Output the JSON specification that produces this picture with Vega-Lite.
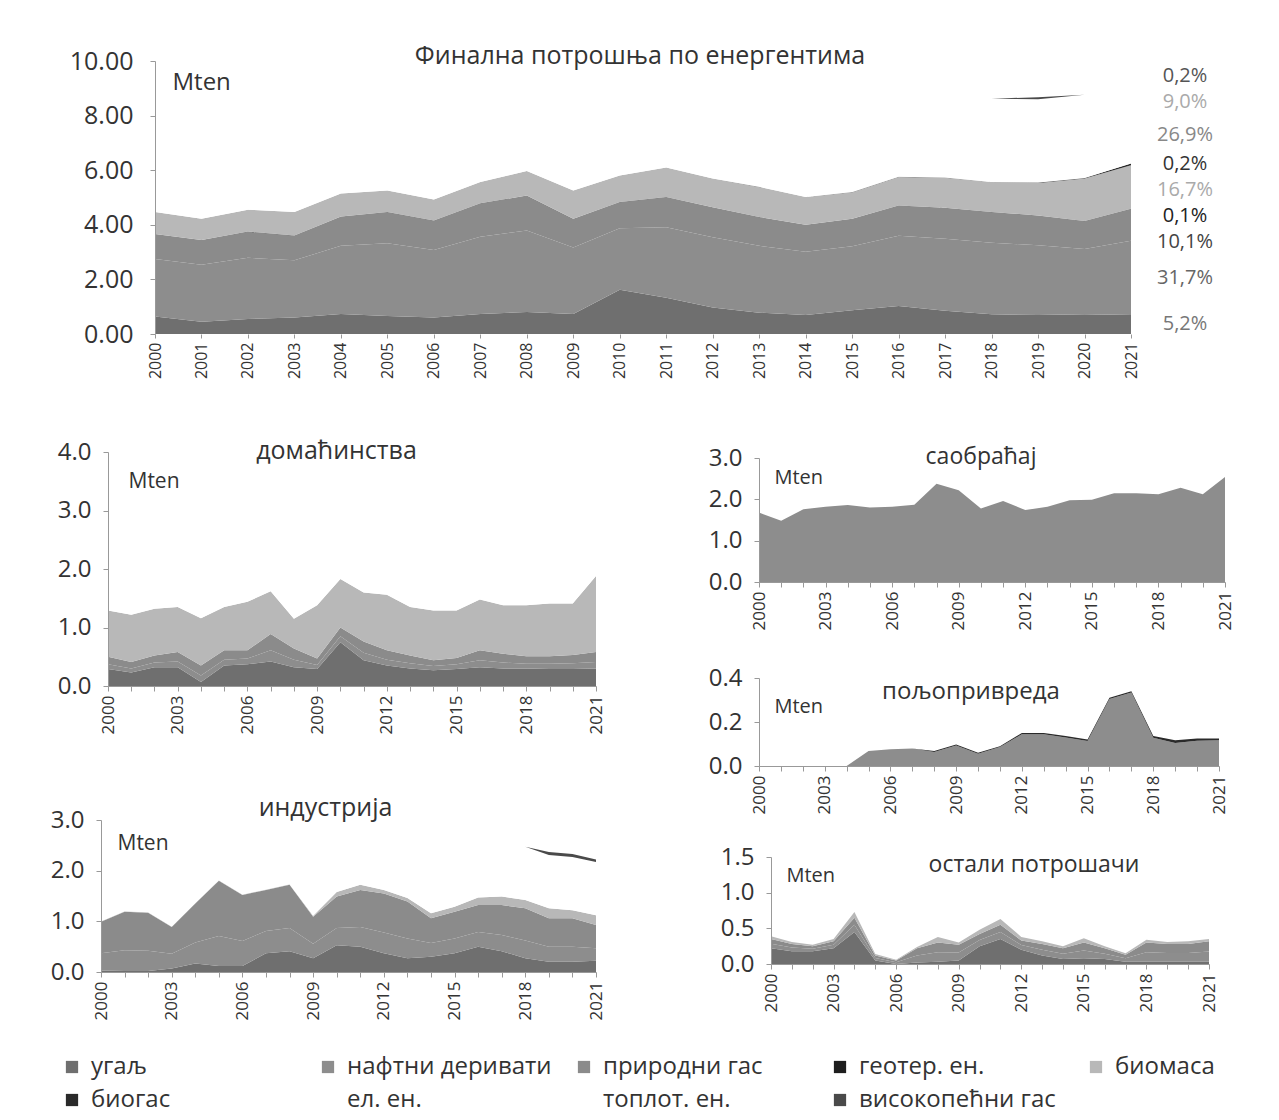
{
  "$schema": "https://vega.github.io/schema/vega-lite/v6.json",
  "background": "white",
  "padding": {"left": 50, "top": 44, "right": 5, "bottom": 5},
  "config": {
    "font": "Open Sans",
    "view": {"stroke": null},
    "axis": {"labelColor": "#333", "domainColor": "#999", "tickColor": "#999", "tickSize": 5, "grid": false, "titleFontWeight": "normal", "titleColor": "#333", "labelFlush": false, "labelOverlap": false},
    "title": {"fontWeight": "normal", "color": "#333", "frame": "group", "anchor": "middle"}
  },
  "datasets": {
    "cats": [
      {"key": "coal", "name": "угаљ", "share": "5,2%"},
      {"key": "oil", "name": "нафтни деривати", "share": "31,7%"},
      {"key": "gas", "name": "природни гас", "share": "10,1%"},
      {"key": "geo", "name": "геотер. ен.", "share": "0,1%"},
      {"key": "bio", "name": "биомаса", "share": "16,7%"},
      {"key": "bgas", "name": "биогас", "share": "0,2%"},
      {"key": "el", "name": "ел. ен.", "share": "26,9%"},
      {"key": "heat", "name": "топлот. ен.", "share": "9,0%"},
      {"key": "bfg", "name": "високопећни гас", "share": "0,2%"}
    ],
    "m": [
      {"year": 2000, "coal": 0.64, "oil": 2.11, "gas": 0.91, "geo": 0.005, "bio": 0.80, "bgas": 0, "el": 2.30, "heat": 0.85, "bfg": 0},
      {"year": 2001, "coal": 0.45, "oil": 2.09, "gas": 0.90, "geo": 0.005, "bio": 0.78, "bgas": 0, "el": 2.35, "heat": 0.85, "bfg": 0},
      {"year": 2002, "coal": 0.55, "oil": 2.24, "gas": 0.96, "geo": 0.005, "bio": 0.80, "bgas": 0, "el": 2.30, "heat": 0.85, "bfg": 0},
      {"year": 2003, "coal": 0.60, "oil": 2.10, "gas": 0.90, "geo": 0.005, "bio": 0.86, "bgas": 0, "el": 2.30, "heat": 0.85, "bfg": 0},
      {"year": 2004, "coal": 0.73, "oil": 2.50, "gas": 1.07, "geo": 0.005, "bio": 0.84, "bgas": 0, "el": 2.25, "heat": 0.85, "bfg": 0},
      {"year": 2005, "coal": 0.66, "oil": 2.66, "gas": 1.14, "geo": 0.005, "bio": 0.79, "bgas": 0, "el": 2.25, "heat": 0.85, "bfg": 0},
      {"year": 2006, "coal": 0.60, "oil": 2.48, "gas": 1.07, "geo": 0.005, "bio": 0.77, "bgas": 0, "el": 2.20, "heat": 0.85, "bfg": 0},
      {"year": 2007, "coal": 0.73, "oil": 2.83, "gas": 1.22, "geo": 0.005, "bio": 0.78, "bgas": 0, "el": 2.15, "heat": 0.85, "bfg": 0},
      {"year": 2008, "coal": 0.81, "oil": 2.98, "gas": 1.28, "geo": 0.005, "bio": 0.90, "bgas": 0, "el": 2.20, "heat": 0.85, "bfg": 0},
      {"year": 2009, "coal": 0.73, "oil": 2.44, "gas": 1.05, "geo": 0.005, "bio": 1.03, "bgas": 0, "el": 2.15, "heat": 0.85, "bfg": 0},
      {"year": 2010, "coal": 1.62, "oil": 2.25, "gas": 0.96, "geo": 0.005, "bio": 0.97, "bgas": 0, "el": 2.20, "heat": 0.85, "bfg": 0},
      {"year": 2011, "coal": 1.33, "oil": 2.58, "gas": 1.10, "geo": 0.005, "bio": 1.08, "bgas": 0, "el": 2.20, "heat": 0.85, "bfg": 0},
      {"year": 2012, "coal": 0.97, "oil": 2.57, "gas": 1.10, "geo": 0.005, "bio": 1.05, "bgas": 0, "el": 2.20, "heat": 0.85, "bfg": 0},
      {"year": 2013, "coal": 0.78, "oil": 2.45, "gas": 1.05, "geo": 0.005, "bio": 1.10, "bgas": 0.005, "el": 2.15, "heat": 0.85, "bfg": 0},
      {"year": 2014, "coal": 0.70, "oil": 2.31, "gas": 0.99, "geo": 0.005, "bio": 1.01, "bgas": 0.005, "el": 2.10, "heat": 0.85, "bfg": 0},
      {"year": 2015, "coal": 0.87, "oil": 2.34, "gas": 1.01, "geo": 0.005, "bio": 0.97, "bgas": 0.005, "el": 2.15, "heat": 0.85, "bfg": 0},
      {"year": 2016, "coal": 1.03, "oil": 2.57, "gas": 1.10, "geo": 0.005, "bio": 1.05, "bgas": 0.005, "el": 2.15, "heat": 0.85, "bfg": 0},
      {"year": 2017, "coal": 0.85, "oil": 2.64, "gas": 1.13, "geo": 0.005, "bio": 1.10, "bgas": 0.005, "el": 2.20, "heat": 0.85, "bfg": 0},
      {"year": 2018, "coal": 0.72, "oil": 2.62, "gas": 1.12, "geo": 0.005, "bio": 1.10, "bgas": 0.005, "el": 2.20, "heat": 0.85, "bfg": 0},
      {"year": 2019, "coal": 0.70, "oil": 2.55, "gas": 1.09, "geo": 0.005, "bio": 1.19, "bgas": 0.01, "el": 2.20, "heat": 0.85, "bfg": 0.08},
      {"year": 2020, "coal": 0.72, "oil": 2.39, "gas": 1.02, "geo": 0.005, "bio": 1.56, "bgas": 0.02, "el": 2.15, "heat": 0.90, "bfg": 0},
      {"year": 2021, "coal": 0.70, "oil": 2.72, "gas": 1.16, "geo": 0.005, "bio": 1.60, "bgas": 0.06, "el": 2.10, "heat": 1.10, "bfg": 0}
    ],
    "dom": [
      {"year": 2000, "coal": 0.29, "oil": 0.08, "gas": 0.13, "bio": 0.79, "el": 1.20, "heat": 0.50},
      {"year": 2001, "coal": 0.23, "oil": 0.07, "gas": 0.11, "bio": 0.81, "el": 1.20, "heat": 0.50},
      {"year": 2002, "coal": 0.32, "oil": 0.08, "gas": 0.12, "bio": 0.80, "el": 1.20, "heat": 0.50},
      {"year": 2003, "coal": 0.32, "oil": 0.10, "gas": 0.16, "bio": 0.77, "el": 1.20, "heat": 0.50},
      {"year": 2004, "coal": 0.07, "oil": 0.11, "gas": 0.17, "bio": 0.81, "el": 1.20, "heat": 0.50},
      {"year": 2005, "coal": 0.35, "oil": 0.10, "gas": 0.16, "bio": 0.74, "el": 1.20, "heat": 0.50},
      {"year": 2006, "coal": 0.37, "oil": 0.10, "gas": 0.14, "bio": 0.83, "el": 1.20, "heat": 0.50},
      {"year": 2007, "coal": 0.42, "oil": 0.19, "gas": 0.28, "bio": 0.73, "el": 1.20, "heat": 0.50},
      {"year": 2008, "coal": 0.32, "oil": 0.13, "gas": 0.19, "bio": 0.51, "el": 1.20, "heat": 0.50},
      {"year": 2009, "coal": 0.29, "oil": 0.07, "gas": 0.11, "bio": 0.91, "el": 1.20, "heat": 0.50},
      {"year": 2010, "coal": 0.75, "oil": 0.10, "gas": 0.15, "bio": 0.83, "el": 1.20, "heat": 0.50},
      {"year": 2011, "coal": 0.44, "oil": 0.13, "gas": 0.19, "bio": 0.84, "el": 1.20, "heat": 0.50},
      {"year": 2012, "coal": 0.35, "oil": 0.10, "gas": 0.16, "bio": 0.95, "el": 1.20, "heat": 0.50},
      {"year": 2013, "coal": 0.30, "oil": 0.09, "gas": 0.13, "bio": 0.83, "el": 1.20, "heat": 0.50},
      {"year": 2014, "coal": 0.27, "oil": 0.07, "gas": 0.10, "bio": 0.85, "el": 1.20, "heat": 0.50},
      {"year": 2015, "coal": 0.29, "oil": 0.08, "gas": 0.11, "bio": 0.81, "el": 1.20, "heat": 0.50},
      {"year": 2016, "coal": 0.32, "oil": 0.12, "gas": 0.17, "bio": 0.87, "el": 1.20, "heat": 0.50},
      {"year": 2017, "coal": 0.30, "oil": 0.10, "gas": 0.15, "bio": 0.83, "el": 1.20, "heat": 0.50},
      {"year": 2018, "coal": 0.30, "oil": 0.08, "gas": 0.13, "bio": 0.87, "el": 1.20, "heat": 0.50},
      {"year": 2019, "coal": 0.29, "oil": 0.09, "gas": 0.13, "bio": 0.90, "el": 1.20, "heat": 0.50},
      {"year": 2020, "coal": 0.29, "oil": 0.10, "gas": 0.14, "bio": 0.88, "el": 1.20, "heat": 0.50},
      {"year": 2021, "coal": 0.30, "oil": 0.11, "gas": 0.17, "bio": 1.30, "el": 1.20, "heat": 0.50}
    ],
    "ind": [
      {"year": 2000, "coal": 0.03, "oil": 0.34, "gas": 0.62, "bio": 0.01, "el": 0.85, "heat": 0.20, "bfg": 0},
      {"year": 2001, "coal": 0.02, "oil": 0.41, "gas": 0.76, "bio": 0.01, "el": 0.85, "heat": 0.20, "bfg": 0},
      {"year": 2002, "coal": 0.02, "oil": 0.40, "gas": 0.75, "bio": 0.01, "el": 0.85, "heat": 0.20, "bfg": 0},
      {"year": 2003, "coal": 0.07, "oil": 0.29, "gas": 0.53, "bio": 0.01, "el": 0.85, "heat": 0.20, "bfg": 0},
      {"year": 2004, "coal": 0.17, "oil": 0.41, "gas": 0.77, "bio": 0.01, "el": 0.85, "heat": 0.20, "bfg": 0},
      {"year": 2005, "coal": 0.12, "oil": 0.59, "gas": 1.09, "bio": 0.01, "el": 0.85, "heat": 0.20, "bfg": 0},
      {"year": 2006, "coal": 0.12, "oil": 0.49, "gas": 0.91, "bio": 0.01, "el": 0.85, "heat": 0.20, "bfg": 0},
      {"year": 2007, "coal": 0.37, "oil": 0.44, "gas": 0.81, "bio": 0.01, "el": 0.85, "heat": 0.20, "bfg": 0},
      {"year": 2008, "coal": 0.41, "oil": 0.46, "gas": 0.85, "bio": 0.01, "el": 0.85, "heat": 0.20, "bfg": 0},
      {"year": 2009, "coal": 0.27, "oil": 0.29, "gas": 0.53, "bio": 0.02, "el": 0.85, "heat": 0.20, "bfg": 0},
      {"year": 2010, "coal": 0.53, "oil": 0.34, "gas": 0.62, "bio": 0.09, "el": 0.85, "heat": 0.20, "bfg": 0},
      {"year": 2011, "coal": 0.50, "oil": 0.39, "gas": 0.73, "bio": 0.10, "el": 0.85, "heat": 0.20, "bfg": 0},
      {"year": 2012, "coal": 0.37, "oil": 0.41, "gas": 0.77, "bio": 0.07, "el": 0.85, "heat": 0.20, "bfg": 0},
      {"year": 2013, "coal": 0.27, "oil": 0.39, "gas": 0.73, "bio": 0.07, "el": 0.85, "heat": 0.20, "bfg": 0},
      {"year": 2014, "coal": 0.30, "oil": 0.27, "gas": 0.49, "bio": 0.10, "el": 0.85, "heat": 0.20, "bfg": 0},
      {"year": 2015, "coal": 0.37, "oil": 0.29, "gas": 0.53, "bio": 0.10, "el": 0.85, "heat": 0.20, "bfg": 0},
      {"year": 2016, "coal": 0.50, "oil": 0.29, "gas": 0.53, "bio": 0.15, "el": 0.85, "heat": 0.20, "bfg": 0},
      {"year": 2017, "coal": 0.41, "oil": 0.32, "gas": 0.59, "bio": 0.17, "el": 0.85, "heat": 0.20, "bfg": 0},
      {"year": 2018, "coal": 0.27, "oil": 0.35, "gas": 0.64, "bio": 0.16, "el": 0.85, "heat": 0.20, "bfg": 0},
      {"year": 2019, "coal": 0.20, "oil": 0.30, "gas": 0.56, "bio": 0.20, "el": 0.85, "heat": 0.20, "bfg": 0.06},
      {"year": 2020, "coal": 0.20, "oil": 0.30, "gas": 0.56, "bio": 0.16, "el": 0.85, "heat": 0.20, "bfg": 0.06},
      {"year": 2021, "coal": 0.22, "oil": 0.25, "gas": 0.46, "bio": 0.19, "el": 0.85, "heat": 0.20, "bfg": 0.05}
    ],
    "sao": [
      {"year": 2000, "oil": 1.68}, {"year": 2001, "oil": 1.48}, {"year": 2002, "oil": 1.76}, {"year": 2003, "oil": 1.82},
      {"year": 2004, "oil": 1.86}, {"year": 2005, "oil": 1.80}, {"year": 2006, "oil": 1.82}, {"year": 2007, "oil": 1.87},
      {"year": 2008, "oil": 2.38}, {"year": 2009, "oil": 2.22}, {"year": 2010, "oil": 1.78}, {"year": 2011, "oil": 1.96},
      {"year": 2012, "oil": 1.74}, {"year": 2013, "oil": 1.82}, {"year": 2014, "oil": 1.98}, {"year": 2015, "oil": 1.99},
      {"year": 2016, "oil": 2.15}, {"year": 2017, "oil": 2.15}, {"year": 2018, "oil": 2.12}, {"year": 2019, "oil": 2.28},
      {"year": 2020, "oil": 2.12}, {"year": 2021, "oil": 2.54}
    ],
    "pol": [
      {"year": 2000, "oil": 0, "bgas": 0}, {"year": 2001, "oil": 0, "bgas": 0}, {"year": 2002, "oil": 0, "bgas": 0},
      {"year": 2003, "oil": 0, "bgas": 0}, {"year": 2004, "oil": 0, "bgas": 0}, {"year": 2005, "oil": 0.068, "bgas": 0},
      {"year": 2006, "oil": 0.076, "bgas": 0}, {"year": 2007, "oil": 0.080, "bgas": 0}, {"year": 2008, "oil": 0.064, "bgas": 0.004},
      {"year": 2009, "oil": 0.093, "bgas": 0.005}, {"year": 2010, "oil": 0.056, "bgas": 0.004}, {"year": 2011, "oil": 0.086, "bgas": 0.004},
      {"year": 2012, "oil": 0.144, "bgas": 0.006}, {"year": 2013, "oil": 0.144, "bgas": 0.006}, {"year": 2014, "oil": 0.130, "bgas": 0.006},
      {"year": 2015, "oil": 0.114, "bgas": 0.006}, {"year": 2016, "oil": 0.304, "bgas": 0.006}, {"year": 2017, "oil": 0.334, "bgas": 0.006},
      {"year": 2018, "oil": 0.128, "bgas": 0.008}, {"year": 2019, "oil": 0.105, "bgas": 0.012}, {"year": 2020, "oil": 0.115, "bgas": 0.010},
      {"year": 2021, "oil": 0.117, "bgas": 0.008}
    ],
    "ost": [
      {"year": 2000, "coal": 0.22, "oil": 0.065, "gas": 0.065, "bio": 0.04},
      {"year": 2001, "coal": 0.18, "oil": 0.05, "gas": 0.05, "bio": 0.03},
      {"year": 2002, "coal": 0.18, "oil": 0.035, "gas": 0.035, "bio": 0.02},
      {"year": 2003, "coal": 0.22, "oil": 0.05, "gas": 0.05, "bio": 0.03},
      {"year": 2004, "coal": 0.45, "oil": 0.10, "gas": 0.10, "bio": 0.08},
      {"year": 2005, "coal": 0.05, "oil": 0.035, "gas": 0.035, "bio": 0.02},
      {"year": 2006, "coal": 0.00, "oil": 0.025, "gas": 0.025, "bio": 0.01},
      {"year": 2007, "coal": 0.02, "oil": 0.10, "gas": 0.10, "bio": 0.02},
      {"year": 2008, "coal": 0.03, "oil": 0.135, "gas": 0.135, "bio": 0.08},
      {"year": 2009, "coal": 0.05, "oil": 0.11, "gas": 0.11, "bio": 0.03},
      {"year": 2010, "coal": 0.25, "oil": 0.085, "gas": 0.085, "bio": 0.06},
      {"year": 2011, "coal": 0.35, "oil": 0.10, "gas": 0.10, "bio": 0.08},
      {"year": 2012, "coal": 0.20, "oil": 0.065, "gas": 0.065, "bio": 0.05},
      {"year": 2013, "coal": 0.12, "oil": 0.08, "gas": 0.08, "bio": 0.04},
      {"year": 2014, "coal": 0.07, "oil": 0.075, "gas": 0.075, "bio": 0.03},
      {"year": 2015, "coal": 0.08, "oil": 0.11, "gas": 0.11, "bio": 0.06},
      {"year": 2016, "coal": 0.07, "oil": 0.075, "gas": 0.075, "bio": 0.03},
      {"year": 2017, "coal": 0.03, "oil": 0.05, "gas": 0.05, "bio": 0.02},
      {"year": 2018, "coal": 0.03, "oil": 0.135, "gas": 0.135, "bio": 0.04},
      {"year": 2019, "coal": 0.03, "oil": 0.125, "gas": 0.125, "bio": 0.03},
      {"year": 2020, "coal": 0.03, "oil": 0.125, "gas": 0.125, "bio": 0.04},
      {"year": 2021, "coal": 0.03, "oil": 0.145, "gas": 0.145, "bio": 0.03}
    ]
  },
  "spacing": 60,
  "vconcat": [
    {
      "width": 1030,
      "height": 273,
      "title": {"text": "Финална потрошња по енергентима", "fontSize": 25, "dx": 24, "offset": -20},
      "layer": [
        {
          "data": {"name": "m"},
          "transform": [
            {"fold": ["coal", "oil", "gas", "geo", "bio", "bgas", "el", "heat", "bfg"], "as": ["key", "v"]},
            {"lookup": "key", "from": {"data": {"name": "cats"}, "key": "key", "fields": ["name", "share"]}},
            {"stack": "v", "groupby": ["year"], "as": ["y0", "y1"]}
          ],
          "mark": {"type": "area", "interpolate": "linear"},
          "encoding": {
            "x": {"field": "year", "type": "quantitative", "title": null, "scale": {"domain": [2000, 2021], "range": [54, 1030], "nice": false, "zero": false},
              "axis": {"values": [2000, 2001, 2002, 2003, 2004, 2005, 2006, 2007, 2008, 2009, 2010, 2011, 2012, 2013, 2014, 2015, 2016, 2017, 2018, 2019, 2020, 2021], "format": "d", "labelAngle": -90, "labelFontSize": 16, "labelPadding": 4, "tickSize": 4, "domain": false, "title": null, "zindex": 1}},
            "y": {"field": "y1", "type": "quantitative", "title": "Mten", "scale": {"domain": [0, 10], "nice": false},
              "axis": {"values": [0, 2, 4, 6, 8, 10], "format": ".2f", "labelFontSize": 25, "labelPadding": 17, "offset": -54, "zindex": 1, "title": "Mten", "titleAngle": 0, "titleX": 17, "titleY": 21, "titleAlign": "left", "titleBaseline": "middle", "titleFontSize": 24}},
            "y2": {"field": "y0"},
            "color": {"field": "name", "type": "nominal",
              "scale": {"domain": ["угаљ", "нафтни деривати", "природни гас", "геотер. ен.", "биомаса", "биогас", "ел. ен.", "топлот. ен.", "високопећни гас"], "range": ["#6f6f6f", "#8d8d8d", "#8b8b8b", "#1e1e1e", "#b8b8b8", "#2a2a2a", "#ffffff", "#ffffff", "#4a4a4a"]},
              "legend": {"title": null, "orient": "none", "direction": "horizontal", "legendX": -41, "legendY": 994, "columns": 5, "gridAlign": "all", "columnPadding": 20, "rowPadding": 9, "labelFontSize": 24, "labelColor": "#333", "labelLimit": 400, "symbolType": "square", "symbolSize": 150, "symbolStrokeWidth": 0, "labelOffset": 7}}
          }
        },
        {
          "data": {"name": "m"},
          "transform": [
            {"filter": "datum.year == 2021"},
            {"fold": ["coal", "oil", "gas", "geo", "bio", "bgas", "el", "heat", "bfg"], "as": ["key", "v"]},
            {"lookup": "key", "from": {"data": {"name": "cats"}, "key": "key", "fields": ["name", "share"]}},
            {"stack": "v", "groupby": ["year"], "as": ["y0", "y1"]},
            {"calculate": "(datum.y0 + datum.y1) / 2", "as": "mid"},
            {"window": [{"op": "row_number", "as": "rn"}], "sort": [{"field": "mid", "order": "descending"}]},
            {"calculate": "datum.mid + datum.rn * 0.95", "as": "a"},
            {"window": [{"op": "min", "field": "a", "as": "amin"}], "sort": [{"field": "mid", "order": "descending"}], "frame": [null, 0]},
            {"calculate": "datum.amin - datum.rn * 0.95", "as": "ly"}
          ],
          "mark": {"type": "text", "dx": 54, "align": "center", "baseline": "middle", "fontSize": 20},
          "encoding": {
            "x": {"field": "year", "type": "quantitative", "title": null},
            "y": {"field": "ly", "type": "quantitative", "title": "Mten"},
            "text": {"field": "share"},
            "fill": {"field": "name", "type": "nominal", "legend": null,
              "scale": {"domain": ["угаљ", "нафтни деривати", "природни гас", "геотер. ен.", "биомаса", "биогас", "ел. ен.", "топлот. ен.", "високопећни гас"], "range": ["#777777", "#666666", "#444444", "#222222", "#aaaaaa", "#333333", "#888888", "#aaaaaa", "#555555"]}}
          }
        }
      ]
    },
    {
      "spacing": 104,
      "hconcat": [
        {
          "spacing": 62,
          "vconcat": [
            {
              "width": 495,
              "height": 234,
              "title": {"text": "домаћинства", "fontSize": 25, "dx": -12, "offset": -24},
              "data": {"name": "dom"},
              "transform": [
                {"fold": ["coal", "oil", "gas", "bio", "el", "heat"], "as": ["key", "v"]},
                {"lookup": "key", "from": {"data": {"name": "cats"}, "key": "key", "fields": ["name", "share"]}},
                {"stack": "v", "groupby": ["year"], "as": ["y0", "y1"]}
              ],
              "mark": {"type": "area", "interpolate": "linear"},
              "encoding": {
                "x": {"field": "year", "type": "quantitative", "scale": {"domain": [2000, 2021], "range": [7, 495], "nice": false, "zero": false},
                  "axis": {"values": [2000, 2001, 2002, 2003, 2004, 2005, 2006, 2007, 2008, 2009, 2010, 2011, 2012, 2013, 2014, 2015, 2016, 2017, 2018, 2019, 2020, 2021], "format": "d", "labelExpr": "(datum.value - 2000) % 3 == 0 ? datum.label : ''", "labelAngle": -90, "labelFontSize": 17, "labelPadding": 4, "tickSize": 5, "title": null, "zindex": 1}},
                "y": {"field": "y1", "type": "quantitative", "scale": {"domain": [0, 4], "nice": false},
                  "axis": {"values": [0, 1, 2, 3, 4], "format": ".1f", "labelFontSize": 24, "labelPadding": 12, "offset": -7, "zindex": 1, "title": "Mten", "titleAngle": 0, "titleX": 20, "titleY": 29, "titleAlign": "left", "titleBaseline": "middle", "titleFontSize": 21}},
                "y2": {"field": "y0"},
                "color": {"field": "name", "type": "nominal",
                  "scale": {"domain": ["угаљ", "нафтни деривати", "природни гас", "геотер. ен.", "биомаса", "биогас", "ел. ен.", "топлот. ен.", "високопећни гас"], "range": ["#6f6f6f", "#8d8d8d", "#8b8b8b", "#1e1e1e", "#b8b8b8", "#2a2a2a", "#ffffff", "#ffffff", "#4a4a4a"]},
                  "legend": {"title": null, "orient": "none", "direction": "horizontal", "legendX": -41, "legendY": 994, "columns": 5, "gridAlign": "all", "columnPadding": 20, "rowPadding": 9, "labelFontSize": 24, "labelColor": "#333", "labelLimit": 400, "symbolType": "square", "symbolSize": 150, "symbolStrokeWidth": 0, "labelOffset": 7}}
              }
            },
            {
              "width": 495,
              "height": 152,
              "title": {"text": "индустрија", "fontSize": 25, "dx": -23, "offset": -13},
              "data": {"name": "ind"},
              "transform": [
                {"fold": ["coal", "oil", "gas", "bio", "el", "heat", "bfg"], "as": ["key", "v"]},
                {"lookup": "key", "from": {"data": {"name": "cats"}, "key": "key", "fields": ["name", "share"]}},
                {"stack": "v", "groupby": ["year"], "as": ["y0", "y1"]}
              ],
              "mark": {"type": "area", "interpolate": "linear"},
              "encoding": {
                "x": {"field": "year", "type": "quantitative", "scale": {"domain": [2000, 2021], "range": [0, 495], "nice": false, "zero": false},
                  "axis": {"values": [2000, 2001, 2002, 2003, 2004, 2005, 2006, 2007, 2008, 2009, 2010, 2011, 2012, 2013, 2014, 2015, 2016, 2017, 2018, 2019, 2020, 2021], "format": "d", "labelExpr": "(datum.value - 2000) % 3 == 0 ? datum.label : ''", "labelAngle": -90, "labelFontSize": 17, "labelPadding": 4, "tickSize": 5, "title": null, "zindex": 1}},
                "y": {"field": "y1", "type": "quantitative", "scale": {"domain": [0, 3], "nice": false},
                  "axis": {"values": [0, 1, 2, 3], "format": ".1f", "labelFontSize": 24, "labelPadding": 12, "zindex": 1, "title": "Mten", "titleAngle": 0, "titleX": 16, "titleY": 23, "titleAlign": "left", "titleBaseline": "middle", "titleFontSize": 21}},
                "y2": {"field": "y0"},
                "color": {"field": "name", "type": "nominal",
                  "scale": {"domain": ["угаљ", "нафтни деривати", "природни гас", "геотер. ен.", "биомаса", "биогас", "ел. ен.", "топлот. ен.", "високопећни гас"], "range": ["#6f6f6f", "#8d8d8d", "#8b8b8b", "#1e1e1e", "#b8b8b8", "#2a2a2a", "#ffffff", "#ffffff", "#4a4a4a"]},
                  "legend": {"title": null, "orient": "none", "direction": "horizontal", "legendX": -41, "legendY": 994, "columns": 5, "gridAlign": "all", "columnPadding": 20, "rowPadding": 9, "labelFontSize": 24, "labelColor": "#333", "labelLimit": 400, "symbolType": "square", "symbolSize": 150, "symbolStrokeWidth": 0, "labelOffset": 7}}
              }
            }
          ]
        },
        {
          "spacing": 36,
          "vconcat": [
            {
              "width": 466,
              "height": 130,
              "title": {"text": "саобраћај", "fontSize": 23, "dx": -11, "offset": -23},
              "data": {"name": "sao"},
              "transform": [
                {"fold": ["oil"], "as": ["key", "v"]},
                {"lookup": "key", "from": {"data": {"name": "cats"}, "key": "key", "fields": ["name", "share"]}},
                {"stack": "v", "groupby": ["year"], "as": ["y0", "y1"]}
              ],
              "mark": {"type": "area", "interpolate": "linear"},
              "encoding": {
                "x": {"field": "year", "type": "quantitative", "scale": {"domain": [2000, 2021], "range": [0, 466], "nice": false, "zero": false},
                  "axis": {"values": [2000, 2001, 2002, 2003, 2004, 2005, 2006, 2007, 2008, 2009, 2010, 2011, 2012, 2013, 2014, 2015, 2016, 2017, 2018, 2019, 2020, 2021], "format": "d", "labelExpr": "(datum.value - 2000) % 3 == 0 ? datum.label : ''", "labelAngle": -90, "labelFontSize": 17, "labelPadding": 4, "tickSize": 5, "title": null, "zindex": 1}},
                "y": {"field": "y1", "type": "quantitative", "scale": {"domain": [0, 3], "range": [130, 6], "nice": false},
                  "axis": {"values": [0, 1, 2, 3], "format": ".1f", "labelFontSize": 24, "labelPadding": 12, "zindex": 1, "title": "Mten", "titleAngle": 0, "titleX": 15, "titleY": 25, "titleAlign": "left", "titleBaseline": "middle", "titleFontSize": 20}},
                "y2": {"field": "y0"},
                "color": {"field": "name", "type": "nominal",
                  "scale": {"domain": ["угаљ", "нафтни деривати", "природни гас", "геотер. ен.", "биомаса", "биогас", "ел. ен.", "топлот. ен.", "високопећни гас"], "range": ["#6f6f6f", "#8d8d8d", "#8b8b8b", "#1e1e1e", "#b8b8b8", "#2a2a2a", "#ffffff", "#ffffff", "#4a4a4a"]},
                  "legend": {"title": null, "orient": "none", "direction": "horizontal", "legendX": -41, "legendY": 994, "columns": 5, "gridAlign": "all", "columnPadding": 20, "rowPadding": 9, "labelFontSize": 24, "labelColor": "#333", "labelLimit": 400, "symbolType": "square", "symbolSize": 150, "symbolStrokeWidth": 0, "labelOffset": 7}}
              }
            },
            {
              "spacing": 31,
              "vconcat": [
                {
                  "width": 460,
                  "height": 88,
                  "title": {"text": "пољопривреда", "fontSize": 24, "dx": -18, "offset": -38},
                  "data": {"name": "pol"},
                  "transform": [
                    {"fold": ["oil", "bgas"], "as": ["key", "v"]},
                    {"lookup": "key", "from": {"data": {"name": "cats"}, "key": "key", "fields": ["name", "share"]}},
                    {"stack": "v", "groupby": ["year"], "as": ["y0", "y1"]}
                  ],
                  "mark": {"type": "area", "interpolate": "linear"},
                  "encoding": {
                    "x": {"field": "year", "type": "quantitative", "scale": {"domain": [2000, 2021], "range": [0, 460], "nice": false, "zero": false},
                      "axis": {"values": [2000, 2001, 2002, 2003, 2004, 2005, 2006, 2007, 2008, 2009, 2010, 2011, 2012, 2013, 2014, 2015, 2016, 2017, 2018, 2019, 2020, 2021], "format": "d", "labelExpr": "(datum.value - 2000) % 3 == 0 ? datum.label : ''", "labelAngle": -90, "labelFontSize": 17, "labelPadding": 4, "tickSize": 5, "title": null, "zindex": 1}},
                    "y": {"field": "y1", "type": "quantitative", "scale": {"domain": [0, 0.4], "nice": false},
                      "axis": {"values": [0, 0.2, 0.4], "format": ".1f", "labelFontSize": 24, "labelPadding": 12, "zindex": 1, "title": "Mten", "titleAngle": 0, "titleX": 15, "titleY": 28, "titleAlign": "left", "titleBaseline": "middle", "titleFontSize": 20}},
                    "y2": {"field": "y0"},
                    "color": {"field": "name", "type": "nominal",
                      "scale": {"domain": ["угаљ", "нафтни деривати", "природни гас", "геотер. ен.", "биомаса", "биогас", "ел. ен.", "топлот. ен.", "високопећни гас"], "range": ["#6f6f6f", "#8d8d8d", "#8b8b8b", "#1e1e1e", "#b8b8b8", "#2a2a2a", "#ffffff", "#ffffff", "#4a4a4a"]},
                      "legend": {"title": null, "orient": "none", "direction": "horizontal", "legendX": -41, "legendY": 994, "columns": 5, "gridAlign": "all", "columnPadding": 20, "rowPadding": 9, "labelFontSize": 24, "labelColor": "#333", "labelLimit": 400, "symbolType": "square", "symbolSize": 150, "symbolStrokeWidth": 0, "labelOffset": 7}}
                  }
                },
                {
                  "width": 450,
                  "height": 107,
                  "title": {"text": "остали потрошачи", "fontSize": 23, "dx": 50, "offset": -32},
                  "data": {"name": "ost"},
                  "transform": [
                    {"fold": ["coal", "oil", "gas", "bio"], "as": ["key", "v"]},
                    {"lookup": "key", "from": {"data": {"name": "cats"}, "key": "key", "fields": ["name", "share"]}},
                    {"stack": "v", "groupby": ["year"], "as": ["y0", "y1"]}
                  ],
                  "mark": {"type": "area", "interpolate": "linear"},
                  "encoding": {
                    "x": {"field": "year", "type": "quantitative", "scale": {"domain": [2000, 2021], "range": [12, 450], "nice": false, "zero": false},
                      "axis": {"values": [2000, 2001, 2002, 2003, 2004, 2005, 2006, 2007, 2008, 2009, 2010, 2011, 2012, 2013, 2014, 2015, 2016, 2017, 2018, 2019, 2020, 2021], "format": "d", "labelExpr": "(datum.value - 2000) % 3 == 0 ? datum.label : ''", "labelAngle": -90, "labelFontSize": 17, "labelPadding": 4, "tickSize": 5, "title": null, "zindex": 1}},
                    "y": {"field": "y1", "type": "quantitative", "scale": {"domain": [0, 1.5], "nice": false},
                      "axis": {"values": [0, 0.5, 1, 1.5], "format": ".1f", "labelFontSize": 24, "labelPadding": 12, "offset": -12, "zindex": 1, "title": "Mten", "titleAngle": 0, "titleX": 15, "titleY": 18, "titleAlign": "left", "titleBaseline": "middle", "titleFontSize": 20}},
                    "y2": {"field": "y0"},
                    "color": {"field": "name", "type": "nominal",
                      "scale": {"domain": ["угаљ", "нафтни деривати", "природни гас", "геотер. ен.", "биомаса", "биогас", "ел. ен.", "топлот. ен.", "високопећни гас"], "range": ["#6f6f6f", "#8d8d8d", "#8b8b8b", "#1e1e1e", "#b8b8b8", "#2a2a2a", "#ffffff", "#ffffff", "#4a4a4a"]},
                      "legend": {"title": null, "orient": "none", "direction": "horizontal", "legendX": -41, "legendY": 994, "columns": 5, "gridAlign": "all", "columnPadding": 20, "rowPadding": 9, "labelFontSize": 24, "labelColor": "#333", "labelLimit": 400, "symbolType": "square", "symbolSize": 150, "symbolStrokeWidth": 0, "labelOffset": 7}}
                  }
                }
              ]
            }
          ]
        }
      ]
    }
  ]
}
